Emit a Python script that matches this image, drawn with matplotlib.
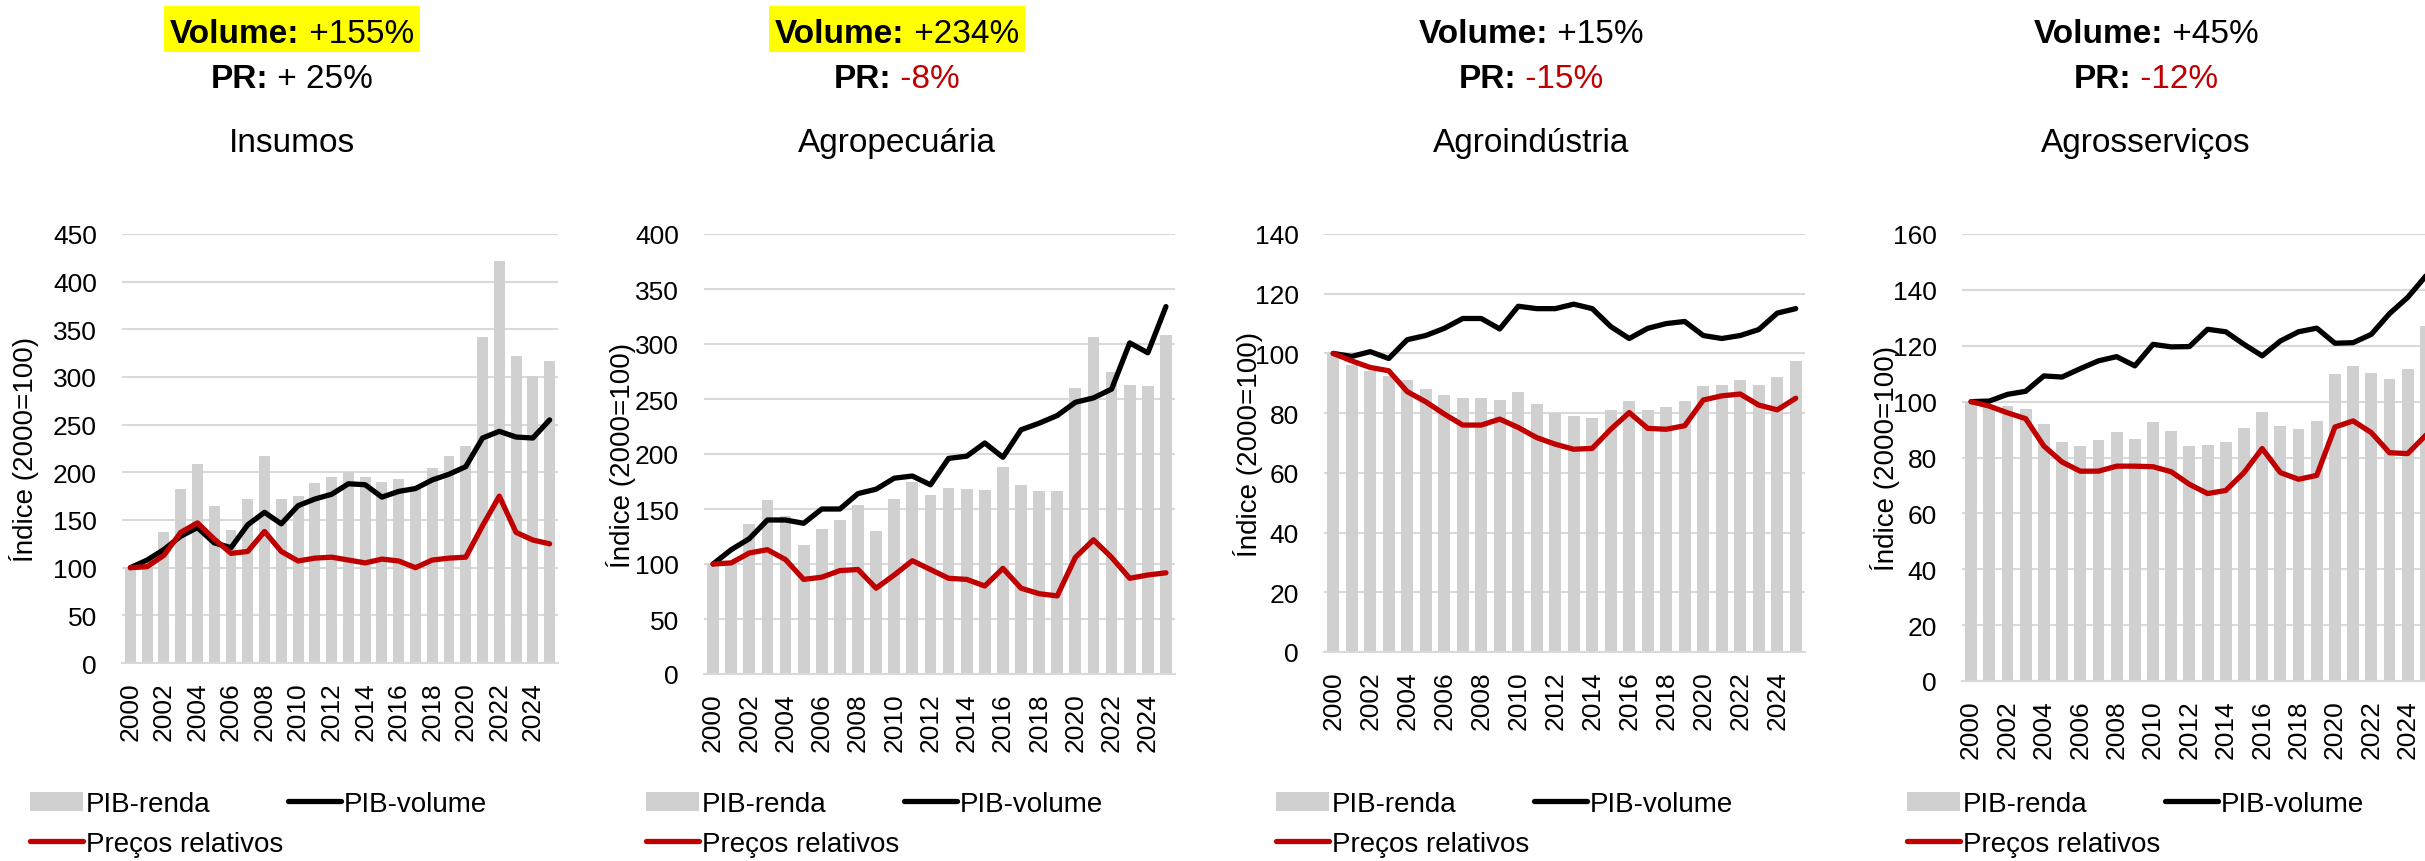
import matplotlib
matplotlib.use("Agg")
import matplotlib.pyplot as plt
from matplotlib.patches import Rectangle
import numpy as np

plt.rcParams['font.family'] = ['Liberation Sans', 'DejaVu Sans']

years = list(range(2000, 2026))

# Insumos
insumos_renda = [100, 101, 137, 183, 209, 165, 139, 172, 217, 172, 175, 189, 195,
                 200, 195, 190, 193, 183, 205, 217, 228, 342, 422, 322, 301, 317]
insumos_volume = [100, 108, 119, 133, 142, 126, 121, 145, 158, 146, 165, 172, 177,
                  188, 187, 174, 180, 183, 192, 198, 206, 236, 243, 237, 236, 255]
insumos_precos = [100, 101, 113, 137, 147, 130, 115, 117, 138, 117, 107, 110, 111,
                  108, 105, 109, 107, 100, 108, 110, 111, 144, 175, 137, 129, 125]

# Agropecuária
agro_renda = [100, 102, 136, 158, 144, 117, 132, 140, 154, 130, 159, 175, 163,
              169, 168, 167, 188, 172, 166, 166, 260, 306, 275, 263, 262, 308]
agro_volume = [100, 113, 123, 140, 140, 137, 150, 150, 164, 168, 178, 180, 172,
               196, 198, 210, 197, 222, 228, 235, 247, 251, 259, 301, 292, 334]
agro_precos = [100, 101, 110, 113, 104, 86, 88, 94, 95, 78, 90, 103, 95,
               87, 86, 80, 96, 78, 73, 71, 106, 122, 106, 87, 90, 92]

# Agroindústria
agroind_renda = [100, 96, 94, 92.5, 91, 88, 86, 85, 85, 84.5, 87, 83, 80,
                 79, 78.5, 81, 84, 81, 82, 84, 89, 89.5, 91, 89.5, 92, 97.5]
agroind_volume = [100, 99, 100.6, 98.3, 104.6, 106, 108.4, 111.7, 111.7, 108.2, 115.8, 115, 115,
                  116.5, 115, 109, 105, 108.4, 110, 110.7, 106, 105, 106, 108, 113.5, 115]
agroind_precos = [100, 97.5, 95.3, 94.2, 87.2, 83.8, 79.7, 76, 76, 78, 75.2, 71.8, 69.6,
                  67.9, 68.2, 74.6, 80.2, 74.9, 74.6, 75.8, 84.4, 85.8, 86.4, 82.7, 81.1, 85]

# Agrosserviços
agroserv_renda = [100, 98, 98.4, 97.3, 91.9, 85.5, 84, 86.1, 89.2, 86.5, 92.6, 89.4, 84,
                  84.5, 85.4, 90.7, 96.4, 91.4, 90.1, 93.2, 110, 112.7, 110.3, 108, 111.5, 127]
agroserv_volume = [100, 100.2, 102.6, 103.7, 109.2, 108.8, 111.8, 114.6, 116.1, 112.8, 120.5, 119.6, 119.7,
                   125.9, 125, 120.5, 116.4, 121.7, 125, 126.3, 120.9, 121.1, 124.1, 131.5, 137.3, 145]
agroserv_precos = [100, 98.4, 96, 93.9, 84.1, 78.4, 75.1, 75.1, 76.9, 76.9, 76.7, 74.9, 70.4,
                   67.1, 68.2, 74.6, 83.2, 74.6, 72.2, 73.6, 90.9, 93.1, 88.9, 81.7, 81.4, 88]

titles = ['Insumos', 'Agropecuária', 'Agroindústria', 'Agrosserviços']
volume_txt = [' +155%', ' +234%', ' +15%', ' +45%']
pr_txt = [' + 25%', ' -8%', ' -15%', ' -12%']
pr_red = [False, True, True, True]
highlight = [True, True, False, False]
ymax = [450, 400, 140, 160]
ystep = [50, 50, 20, 20]

renda = [insumos_renda, agro_renda, agroind_renda, agroserv_renda]
volume = [insumos_volume, agro_volume, agroind_volume, agroserv_volume]
precos = [insumos_precos, agro_precos, agroind_precos, agroserv_precos]

W, H = 2425, 862
# axes boxes in pixels: x0, x1, ytop, ybottom (last one runs past the right edge)
axes_px = [(122, 558, 235, 664), (704, 1175, 235, 675),
           (1324, 1805, 235, 653), (1962, 2435, 235, 682)]
ylabel_x = [24, 621, 1248, 1885]
header_cx = [292, 897, 1531, 2146]
legend_x = [30, 646, 1276, 1907]

GRAY_BAR = '#D0D0D0'
GRID = '#D9D9D9'
RED = '#C00000'

fig = plt.figure(figsize=(W / 100, H / 100), dpi=100)
renderer = fig.canvas.get_renderer()


def two_part(cx, ybase, bold_s, reg_s, reg_color, size=24):
    t1 = fig.text(0, 1 - ybase / H, bold_s, fontweight='bold', fontsize=size,
                  va='baseline', ha='left', zorder=3)
    t2 = fig.text(0, 1 - ybase / H, reg_s, fontsize=size, color=reg_color,
                  va='baseline', ha='left', zorder=3)
    w1 = t1.get_window_extent(renderer).width
    w2 = t2.get_window_extent(renderer).width
    x0 = cx - (w1 + w2) / 2
    t1.set_x(x0 / W)
    t2.set_x((x0 + w1) / W)
    return x0, x0 + w1 + w2


x = np.arange(len(years))
for i in range(4):
    x0, x1, yt, yb = axes_px[i]
    ax = fig.add_axes([x0 / W, 1 - yb / H, (x1 - x0) / W, (yb - yt) / H])
    bars = ax.bar(x, renda[i], width=0.65, color=GRAY_BAR, zorder=2)
    l_vol, = ax.plot(x, volume[i], color='black', lw=3.8, zorder=4,
                     solid_joinstyle='round', solid_capstyle='round')
    l_pr, = ax.plot(x, precos[i], color=RED, lw=3.8, zorder=5,
                    solid_joinstyle='round', solid_capstyle='round')

    ax.set_xlim(-0.5, len(years) - 0.5)
    ax.set_ylim(0, ymax[i])
    ax.set_yticks(np.arange(0, ymax[i] + 1, ystep[i]))
    ax.set_xticks(x[::2])
    ax.set_xticklabels([str(y) for y in years[::2]], rotation=90)
    ax.tick_params(axis='y', length=0, pad=18, labelsize=19)
    ax.tick_params(axis='x', length=0, pad=13, labelsize=19)
    ax.grid(axis='y', color=GRID, lw=1.5, zorder=0)
    ax.set_axisbelow(True)
    for s in ['top', 'right', 'left']:
        ax.spines[s].set_visible(False)
    ax.spines['bottom'].set_color(GRID)
    ax.spines['bottom'].set_linewidth(1.5)

    fig.text(ylabel_x[i] / W, 1 - (yt + yb) / 2 / H, 'Índice (2000=100)',
             rotation=90, fontsize=20, ha='center', va='center')

    ax.legend([bars, l_pr, l_vol], ['PIB-renda', 'Preços relativos', 'PIB-volume'],
              ncol=2, loc='center left', bbox_to_anchor=(legend_x[i] / W, 1 - 825 / H),
              bbox_transform=fig.transFigure, frameon=False, fontsize=20,
              handlelength=1.9, handletextpad=0.1, columnspacing=0.2,
              labelspacing=0.5, borderpad=0, borderaxespad=0)

    # headers
    hx0, hx1 = two_part(header_cx[i], 43, 'Volume:', volume_txt[i], 'black')
    if highlight[i]:
        fig.add_artist(Rectangle(((hx0 - 6) / W, 1 - 53 / H), (hx1 - hx0 + 12) / W, 46 / H,
                                 transform=fig.transFigure, facecolor='#FFFF00',
                                 edgecolor='none', zorder=1))
    two_part(header_cx[i], 88, 'PR:', pr_txt[i], RED if pr_red[i] else 'black')
    fig.text(header_cx[i] / W, 1 - 152 / H, titles[i], fontsize=24,
             ha='center', va='baseline')

fig.savefig('out.png', dpi=100)
